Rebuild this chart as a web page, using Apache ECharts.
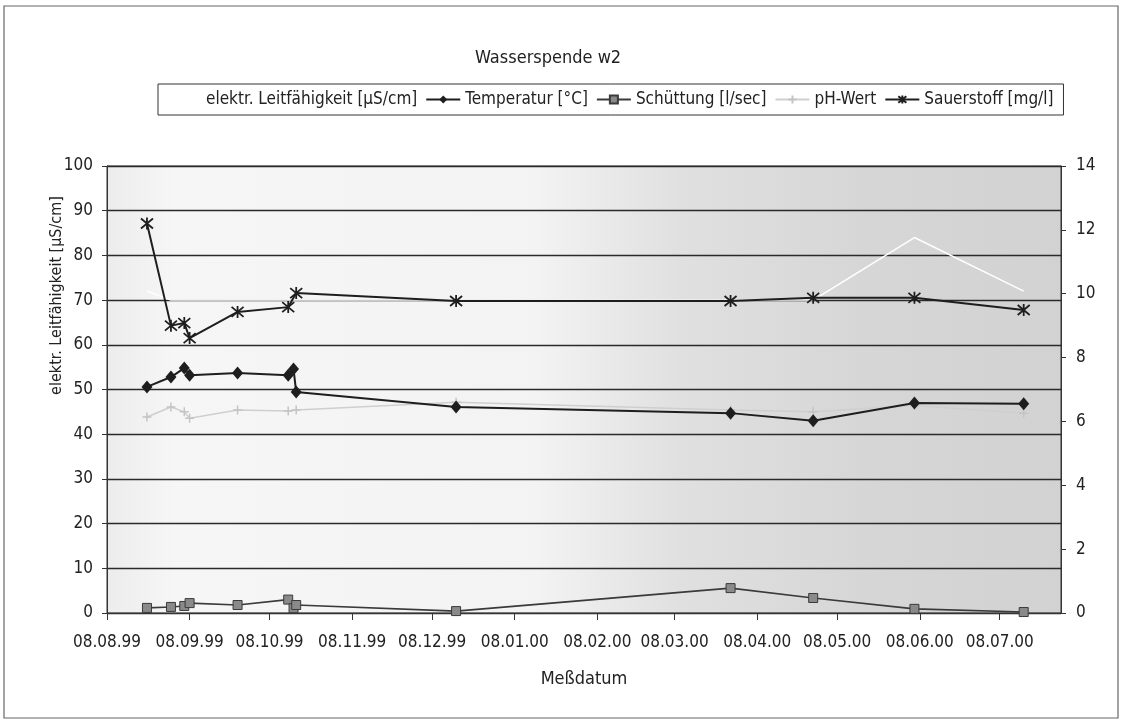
<!DOCTYPE html>
<html><head><meta charset="utf-8">
<script src="https://cdn.jsdelivr.net/npm/echarts@6/dist/echarts.min.js"></script>
<style>html,body{margin:0;padding:0;background:#fff}#c{width:1123px;height:726px}</style>
</head><body><div id="c"></div>
<script>
// Messdaten (Meßdatum)
const dates = ['1999-08-23','1999-09-01','1999-09-06','1999-09-08','1999-09-26','1999-10-15','1999-10-17','1999-10-18','1999-12-17','2000-03-29','2000-04-29','2000-06-06','2000-07-17'];
const leitfaehigkeit = [72, 70, 70, 70, 70, 70, 70, 70, 70, 70, 70, 84, 72];
const temperatur = [7.08, 7.39, 7.67, 7.45, 7.52, 7.45, 7.64, 6.92, 6.45, 6.26, 6.02, 6.58, 6.55];
const schuettung = [0.16, 0.19, 0.22, 0.31, 0.25, 0.42, 0.15, 0.25, 0.06, 0.78, 0.47, 0.13, 0.03];
const phWert = [6.14, 6.45, 6.3, 6.1, 6.36, 6.33, null, 6.36, 6.6, 6.36, 6.3, 6.5, 6.26];
const sauerstoff = [12.2, 9.0, 9.08, 8.61, 9.43, 9.58, null, 10.02, 9.77, 9.77, 9.87, 9.87, 9.49];
const monthTicks = ['1999-08-08','1999-09-08','1999-10-08','1999-11-08','1999-12-08','2000-01-08','2000-02-08','2000-03-08','2000-04-08','2000-05-08','2000-06-08','2000-07-08'];
const axisMin = '1999-08-08';
const axisMax = '2000-07-31';

function ts(s){ const p = s.split('-').map(Number); return Date.UTC(p[0], p[1]-1, p[2]); }
function fmt(v){ const d = new Date(v); const p = n => String(n).padStart(2,'0');
  return p(d.getUTCDate()) + '.' + p(d.getUTCMonth()+1) + '.' + p(d.getUTCFullYear() % 100); }
function pairs(arr){ return dates.map((d,i) => [ts(d), arr[i]]); }

const FONT = "'Liberation Sans Narrow','DejaVu Sans Condensed','Liberation Sans',Arial,sans-serif";
const tickVals = monthTicks.map(ts);
const STAR = 'path://M0,0L10,10M10,0L0,10M5,-1L5,11';
const PLUS = 'path://M5,0L5,10M0,5L10,5';

const chart = echarts.init(document.getElementById('c'), null, {renderer:'canvas'});
chart.setOption({
  animation: false,
  backgroundColor: '#fff',
  textStyle: { fontFamily: FONT, color: '#222' },
  graphic: [{ type:'rect', shape:{x:4, y:6, width:1114, height:712}, style:{fill:'none', stroke:'#666', lineWidth:1.2}, silent:true, z:-1 }],
  title: { text: 'Wasserspende w2', left: 470, top: 44,
    textStyle: { fontFamily: FONT, fontSize: 18, fontWeight: 'normal', color: '#222' } },
  legend: {
    left: 158, top: 84, orient: 'horizontal',
    itemWidth: 34, itemHeight: 10, itemGap: 8,
    borderColor: '#333', borderWidth: 1, padding: [7, 10, 7, 8],
    backgroundColor: '#fff',
    textStyle: { fontFamily: FONT, fontSize: 17, color: '#222' },
    data: ['elektr. Leitfähigkeit [µS/cm]','Temperatur [°C]','Schüttung [l/sec]','pH-Wert','Sauerstoff [mg/l]']
  },
  grid: { left: 107, right: 62, top: 166, bottom: 113, show: true,
    borderColor: '#333', borderWidth: 1,
    backgroundColor: { type:'linear', x:0, y:0, x2:1, y2:0, colorStops:[
      {offset:0, color:'#ececec'}, {offset:0.07, color:'#f6f6f6'}, {offset:0.45, color:'#f3f3f3'},
      {offset:0.6, color:'#e0e0e0'}, {offset:0.8, color:'#d6d6d6'}, {offset:1, color:'#d2d2d2'}] } },
  xAxis: {
    type: 'value', min: ts(axisMin), max: ts(axisMax), scale: true,
    name: 'Meßdatum', nameLocation: 'middle', nameGap: 57,
    nameTextStyle: { fontFamily: FONT, fontSize: 18, color: '#222' },
    axisLine: { lineStyle: { color: '#333', width: 1 } },
    axisTick: { show: true, length: 7, lineStyle: { color: '#333' }, customValues: tickVals },
    axisLabel: { customValues: tickVals, formatter: fmt, fontFamily: FONT, fontSize: 17, color: '#222', margin: 21 },
    splitLine: { show: false }
  },
  yAxis: [{
    type: 'value', min: 0, max: 100, interval: 10, position: 'left',
    name: 'elektr. Leitfähigkeit [µS/cm]', nameLocation: 'middle', nameGap: 42, nameMoveOverlap: false,
    nameTextStyle: { fontFamily: FONT, fontSize: 16, color: '#222', padding: [0, 0, 0, 188] },
    axisLine: { show: true, lineStyle: { color: '#333' } },
    axisTick: { show: true, length: 5, lineStyle: { color: '#333' } },
    axisLabel: { fontFamily: FONT, fontSize: 17, color: '#222', margin: 14 },
    splitLine: { show: true, lineStyle: { color: '#2a2a2a', width: 1.3 } }
  }, {
    type: 'value', min: 0, max: 14, interval: 2, position: 'right',
    axisLine: { show: true, lineStyle: { color: '#333' } },
    axisTick: { show: true, length: 5, lineStyle: { color: '#333' } },
    axisLabel: { fontFamily: FONT, fontSize: 17, color: '#222', margin: 15 },
    splitLine: { show: false }
  }],
  series: [{
    name: 'elektr. Leitfähigkeit [µS/cm]', type: 'line', yAxisIndex: 0, data: pairs(leitfaehigkeit),
    symbol: 'none', connectNulls: true, z: 1,
    itemStyle: { color: '#ffffff' }, lineStyle: { color: '#ffffff', width: 1.5 }
  }, {
    name: 'pH-Wert', type: 'line', yAxisIndex: 1, data: pairs(phWert), connectNulls: true, z: 2,
    symbol: PLUS, symbolSize: 9,
    itemStyle: { color: 'rgba(0,0,0,0)', borderColor: '#c4c4c4', borderWidth: 1.5 },
    lineStyle: { color: '#cfcfcf', width: 1.5 }
  }, {
    name: 'Temperatur [°C]', type: 'line', yAxisIndex: 1, data: pairs(temperatur), connectNulls: true, z: 4,
    symbol: 'diamond', symbolSize: [11, 13],
    itemStyle: { color: '#1e1e1e' }, lineStyle: { color: '#1e1e1e', width: 2 }
  }, {
    name: 'Schüttung [l/sec]', type: 'line', yAxisIndex: 1, data: pairs(schuettung), connectNulls: true, z: 3,
    symbol: 'rect', symbolSize: 9,
    itemStyle: { color: '#8a8a8a', borderColor: '#3a3a3a', borderWidth: 1 },
    lineStyle: { color: '#3a3a3a', width: 1.6 }
  }, {
    name: 'Sauerstoff [mg/l]', type: 'line', yAxisIndex: 1, data: pairs(sauerstoff), connectNulls: true, z: 5,
    symbol: STAR, symbolSize: 12,
    itemStyle: { color: 'rgba(0,0,0,0)', borderColor: '#1e1e1e', borderWidth: 1.8 },
    lineStyle: { color: '#1e1e1e', width: 2 }
  }]
});
</script></body></html>
